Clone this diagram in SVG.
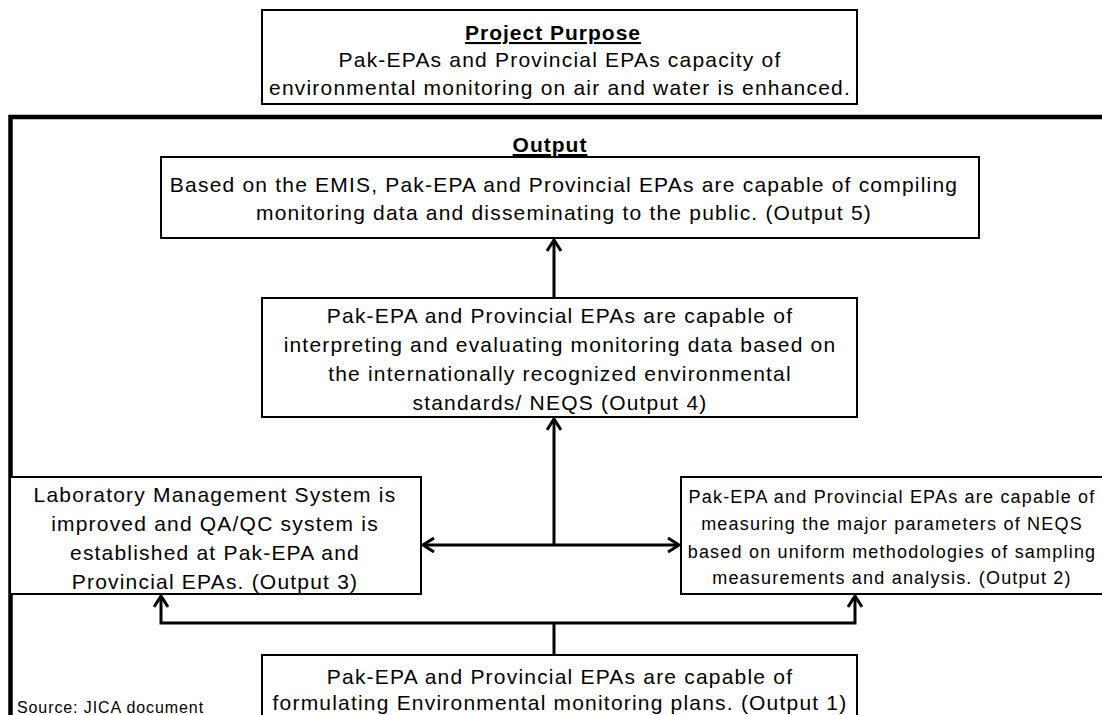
<svg xmlns="http://www.w3.org/2000/svg" width="1102" height="715" viewBox="0 0 1102 715">
<style>
text{font-family:"Liberation Sans",Arial,sans-serif;fill:#000;text-anchor:middle}
.t{font-size:21px;letter-spacing:1.2px}
.s{font-size:18px;letter-spacing:1.2px}
.h{font-size:21px;font-weight:bold;letter-spacing:1px;text-decoration:underline}
.src{font-size:16px;letter-spacing:0.9px;text-anchor:start}
.box{fill:#fff;stroke:#000;stroke-width:2}
.frame{fill:none;stroke:#000;stroke-width:4.5}
.conn{fill:none;stroke:#000;stroke-width:3}
</style>
<defs>
<marker id="ah" viewBox="0 0 14 16" refX="12" refY="8" markerWidth="14" markerHeight="16" markerUnits="userSpaceOnUse" orient="auto-start-reverse">
<path d="M1,1 L12,8 L1,15" fill="none" stroke="#000" stroke-width="3"/>
</marker>
</defs>
<rect width="1102" height="715" fill="#fff"/>
<g id="purpose">
<rect class="box" x="262" y="10" width="595" height="94"/>
<text class="h" x="553" y="40">Project Purpose</text>
<text class="t" x="560" y="67">Pak-EPAs and Provincial EPAs capacity of</text>
<text class="t" x="560" y="95">environmental monitoring on air and water is enhanced.</text>
</g>
<g id="output-frame">
<path class="frame" d="M1104,117 H10.5 V717"/>
<text class="h" x="550" y="152">Output</text>
</g>
<g id="output5">
<rect class="box" x="161" y="157" width="818" height="81"/>
<text class="t" x="564" y="192">Based on the EMIS, Pak-EPA and Provincial EPAs are capable of compiling</text>
<text class="t" x="564" y="220">monitoring data and disseminating to the public. (Output 5)</text>
</g>
<g id="output4">
<rect class="box" x="262" y="298" width="595" height="119"/>
<text class="t" x="560" y="323">Pak-EPA and Provincial EPAs are capable of</text>
<text class="t" x="560" y="352">interpreting and evaluating monitoring data based on</text>
<text class="t" x="560" y="381">the internationally recognized environmental</text>
<text class="t" x="560" y="410">standards/ NEQS (Output 4)</text>
</g>
<g id="output3">
<rect class="box" x="10" y="477" width="411" height="117"/>
<text class="t" x="215" y="502">Laboratory Management System is</text>
<text class="t" x="215" y="531">improved and QA/QC system is</text>
<text class="t" x="215" y="560">established at Pak-EPA and</text>
<text class="t" x="215" y="589">Provincial EPAs. (Output 3)</text>
</g>
<g id="output2">
<rect class="box" x="681" y="477" width="430" height="117"/>
<text class="s" x="892" y="503">Pak-EPA and Provincial EPAs are capable of</text>
<text class="s" x="892" y="530">measuring the major parameters of NEQS</text>
<text class="s" x="892" y="558">based on uniform methodologies of sampling</text>
<text class="s" x="892" y="584">measurements and analysis. (Output 2)</text>
</g>
<g id="output1">
<rect class="box" x="262" y="655" width="595" height="70"/>
<text class="t" x="560" y="684">Pak-EPA and Provincial EPAs are capable of</text>
<text class="t" x="560" y="710">formulating Environmental monitoring plans. (Output 1)</text>
</g>
<g id="source">
<text class="src" x="17" y="713">Source: JICA document</text>
</g>
<g id="connectors">
<path class="conn" d="M554,298 V240" marker-end="url(#ah)"/>
<path class="conn" d="M554,545 V419" marker-end="url(#ah)"/>
<path class="conn" d="M423,545 H679" marker-start="url(#ah)" marker-end="url(#ah)"/>
<path class="conn" d="M554,655 V623"/>
<path class="conn" d="M161,596 V623 H855 V596" marker-start="url(#ah)" marker-end="url(#ah)"/>
</g>
</svg>
